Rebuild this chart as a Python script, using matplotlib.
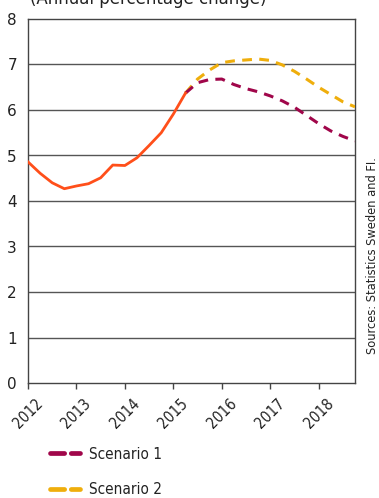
import matplotlib
matplotlib.use("Agg")
import matplotlib.pyplot as plt
from matplotlib.lines import Line2D
from matplotlib import font_manager

# Quarterly observations, 2012Q1 - 2015Q2
hist_x = [2012.0, 2012.25, 2012.5, 2012.75, 2013.0, 2013.25, 2013.5, 2013.75,
          2014.0, 2014.25, 2014.5, 2014.75, 2015.0, 2015.25]
hist_y = [4.86, 4.61, 4.40, 4.27, 4.33, 4.38, 4.51, 4.79,
          4.78, 4.95, 5.22, 5.50, 5.91, 6.37]

# Forecast scenarios, 2015Q2 - 2018Q4
scen_x = [2015.25, 2015.5, 2015.75, 2016.0, 2016.25, 2016.5, 2016.75, 2017.0,
          2017.25, 2017.5, 2017.75, 2018.0, 2018.25, 2018.5, 2018.75]
scen1_y = [6.37, 6.60, 6.67, 6.68, 6.56, 6.47, 6.40, 6.31,
           6.20, 6.06, 5.88, 5.70, 5.54, 5.42, 5.32]
scen2_y = [6.37, 6.68, 6.88, 7.04, 7.08, 7.10, 7.12, 7.09,
           6.99, 6.85, 6.68, 6.50, 6.34, 6.18, 6.07]

years = [2012, 2013, 2014, 2015, 2016, 2017, 2018]
y_ticks = [0, 1, 2, 3, 4, 5, 6, 7, 8]
labels = ["Scenario 1", "Scenario 2"]

c_hist = "#FF4F1A"
c_s1 = "#A0064A"
c_s2 = "#EFAE0C"

cond = font_manager.FontProperties(family="DejaVu Sans", stretch="condensed", size=11)
cond_src = font_manager.FontProperties(family="DejaVu Sans", stretch="condensed", size=9.2)
cond_tick = font_manager.FontProperties(family="DejaVu Sans", stretch="condensed", size=11)

fig = plt.figure(figsize=(3.79, 4.98), dpi=100)
ax = fig.add_axes([28 / 379, 1 - 383 / 498, (355 - 28) / 379, (383 - 19) / 498])

for v in y_ticks[1:-1]:
    ax.axhline(v, color="#555555", lw=1.0, zorder=1)

dash = (3.2, 2.4)
ax.plot(scen_x, scen2_y, color=c_s2, lw=2.2, dashes=dash, zorder=3)
ax.plot(scen_x, scen1_y, color=c_s1, lw=2.2, dashes=dash, zorder=4)
ax.plot(hist_x, hist_y, color=c_hist, lw=2.0, zorder=5)

ax.set_xlim(2012, 2018.75)
ax.set_ylim(0, 8)
ax.set_yticks(y_ticks)
ax.set_yticklabels([str(v) for v in y_ticks], fontsize=11, color="#222222")
ax.tick_params(axis="y", length=0, pad=8)
ax.set_xticks(years)
ax.set_xticklabels([str(y) for y in years], rotation=45, ha="center",
                   fontproperties=cond_tick, color="#222222")
ax.tick_params(axis="x", length=4, width=1, color="#444444", pad=5)
for s in ax.spines.values():
    s.set_color("#444444")
    s.set_linewidth(1.0)

fig.text(30 / 379, 1 - 4 / 498, "(Annual percentage change)", fontsize=12,
         color="#222222", va="baseline", ha="left")

fig.text(372 / 379, 1 - 256 / 498, "Sources: Statistics Sweden and FI.",
         rotation=90, fontproperties=cond_src, color="#222222",
         va="center", ha="center")

handles = [Line2D([], [], color=c_s1, lw=3.4, dashes=(3.0, 1.4), dash_capstyle="round"),
           Line2D([], [], color=c_s2, lw=3.4, dashes=(3.0, 1.4), dash_capstyle="round")]
leg = fig.legend(handles, labels, loc="upper left", bbox_to_anchor=(36 / 379, 1 - 433 / 498),
                 frameon=False, handlelength=2.0, handletextpad=0.6, labelspacing=1.35,
                 prop=cond)
for t in leg.get_texts():
    t.set_color("#222222")

fig.savefig("out.png", dpi=100)
